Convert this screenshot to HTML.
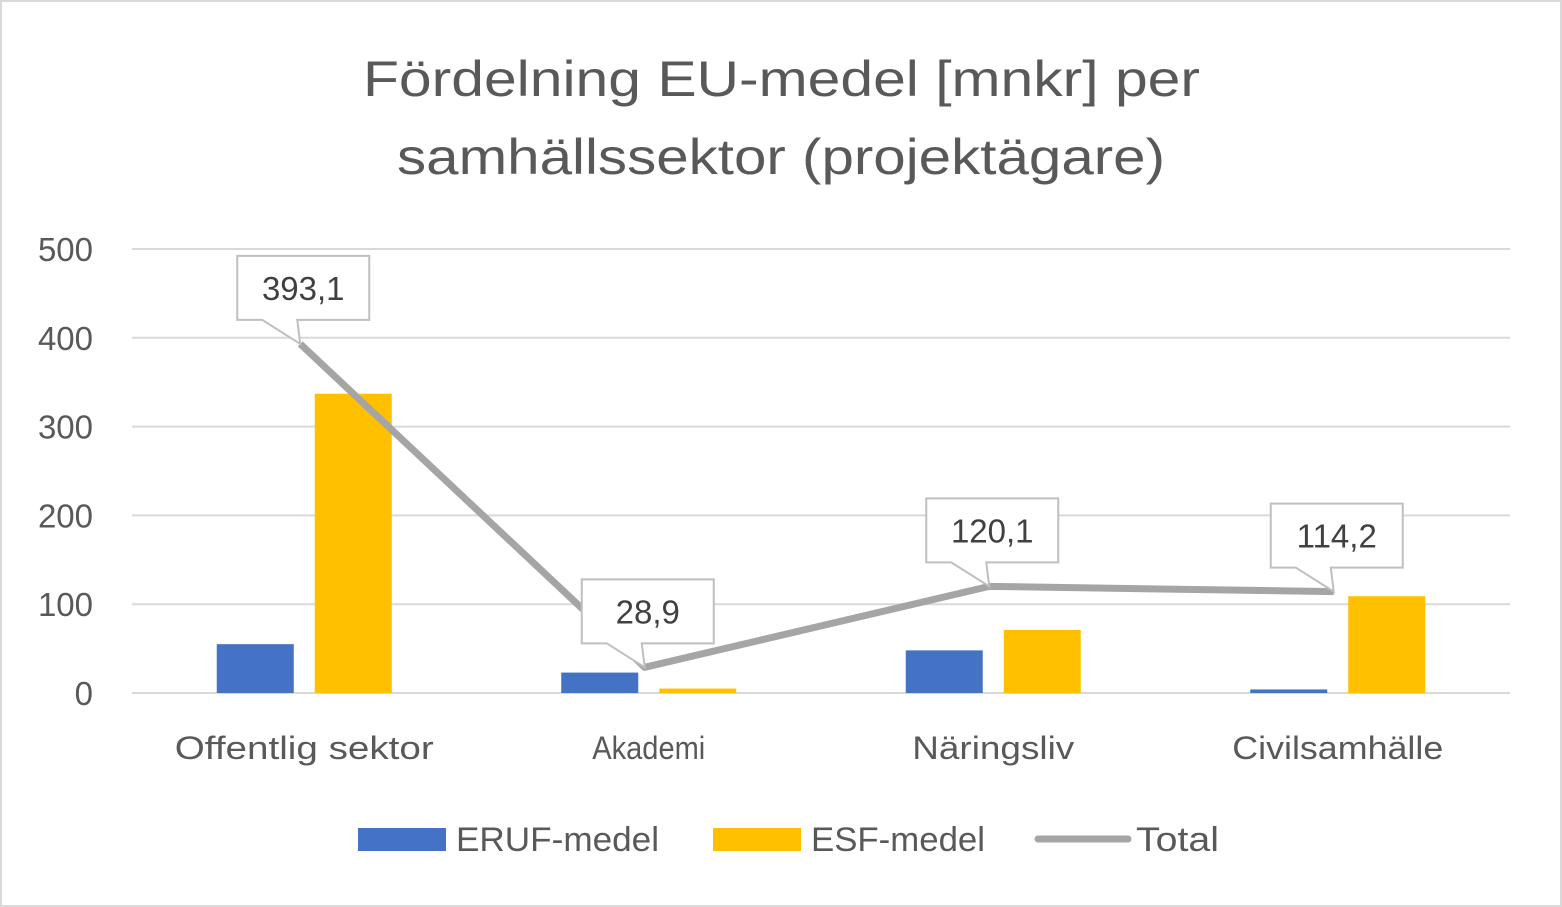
<!DOCTYPE html>
<html><head><meta charset="utf-8"><style>
body{margin:0;background:#fff;}
svg{display:block;font-family:"Liberation Sans",sans-serif;}
</style></head><body>
<svg id="chart" width="1562" height="907" viewBox="0 0 1562 907">
<rect x="1" y="1" width="1560" height="905" fill="#fff" stroke="#d9d9d9" stroke-width="2"/>
<text font-size="50" fill="#595959" lengthAdjust="spacingAndGlyphs"><tspan x="363" y="96" textLength="837" lengthAdjust="spacingAndGlyphs">Fördelning EU-medel [mnkr] per</tspan><tspan x="397" y="174" textLength="768" lengthAdjust="spacingAndGlyphs">samhällssektor (projektägare)</tspan></text>
<g id="grid"></g><g id="bars"></g><g id="line"></g><g id="labels"></g>
<g font-size="34" fill="#595959">
<rect x="358" y="828" width="88" height="23" fill="#4472c4"/>
<text x="456" y="851" textLength="203" lengthAdjust="spacingAndGlyphs">ERUF-medel</text>
<rect x="713" y="828" width="88" height="23" fill="#ffc000"/>
<text x="811" y="851" textLength="174" lengthAdjust="spacingAndGlyphs">ESF-medel</text>
<line x1="1038" y1="839" x2="1128" y2="839" stroke="#a5a5a5" stroke-width="7" stroke-linecap="round"/>
<text x="1136" y="851" textLength="83" lengthAdjust="spacingAndGlyphs">Total</text>
</g>
</svg>
<script>
const categories=["Offentlig sektor","Akademi","Näringsliv","Civilsamhälle"];
const eruf=[55,23,48,4];
const esf=[337,5,71,109];
const total=[393.1,28.9,120.1,114.2];
const ticks=[0,100,200,300,400,500];
const NS="http://www.w3.org/2000/svg";
const x0=132,x1=1510,y0=693,y1=249,maxV=500;
const band=(x1-x0)/categories.length;
const yS=v=>y0-(v/maxV)*(y0-y1);
const xC=i=>x0+band*(i+0.5);
function mk(tag,attrs,parent){const e=document.createElementNS(NS,tag);for(const k in attrs)e.setAttribute(k,attrs[k]);document.getElementById(parent).appendChild(e);return e;}
ticks.forEach(t=>{
 const l=mk("line",{x1:x0,x2:x1,y1:yS(t),y2:yS(t),stroke:"#d9d9d9","stroke-width":2},"grid");
 
 
 const tx=mk("text",{x:93,y:yS(t)+12,"text-anchor":"end","font-size":33,fill:"#595959"},"grid");
 tx.textContent=t;
 
 
});
const bw=77;
categories.forEach((c,i)=>{
 const b1=mk("rect",{x:xC(i)-49-bw/2,y:yS(eruf[i]),width:bw,height:y0-yS(eruf[i]),fill:"#4472c4"},"bars");
 
 
 const b2=mk("rect",{x:xC(i)+49-bw/2,y:yS(esf[i]),width:bw,height:y0-yS(esf[i]),fill:"#ffc000"},"bars");
 
 
 const tx=mk("text",{x:xC(i),y:759,"text-anchor":"middle","font-size":32,fill:"#595959"},"grid");
 tx.textContent=c;
 tx.setAttribute("textLength",Math.round(c.length*16.2));
 tx.setAttribute("lengthAdjust","spacingAndGlyphs");
 
 
});
const pts=total.map((v,i)=>[xC(i)-4,yS(v)]);
const pl=mk("polyline",{points:pts.map(p=>p.join(",")).join(" "),fill:"none",stroke:"#a5a5a5","stroke-width":7,"stroke-linejoin":"round"},"line");


total.forEach((v,i)=>{
 const [px,py]=pts[i];
 const bx=px-63,by=py-88,w=132,h=64;
 const p=mk("path",{d:`M${bx},${by} H${bx+w} V${by+h} H${bx+60} L${px},${py} L${bx+25},${by+h} H${bx} Z`,fill:"#fff",stroke:"#bfbfbf","stroke-width":2},"labels");
 
 
 const t=mk("text",{x:bx+w/2,y:by+44,"text-anchor":"middle","font-size":33,fill:"#404040"},"labels");
 t.textContent=v.toFixed(1).replace(".",",");
 
 
});
</script>
</body></html>
